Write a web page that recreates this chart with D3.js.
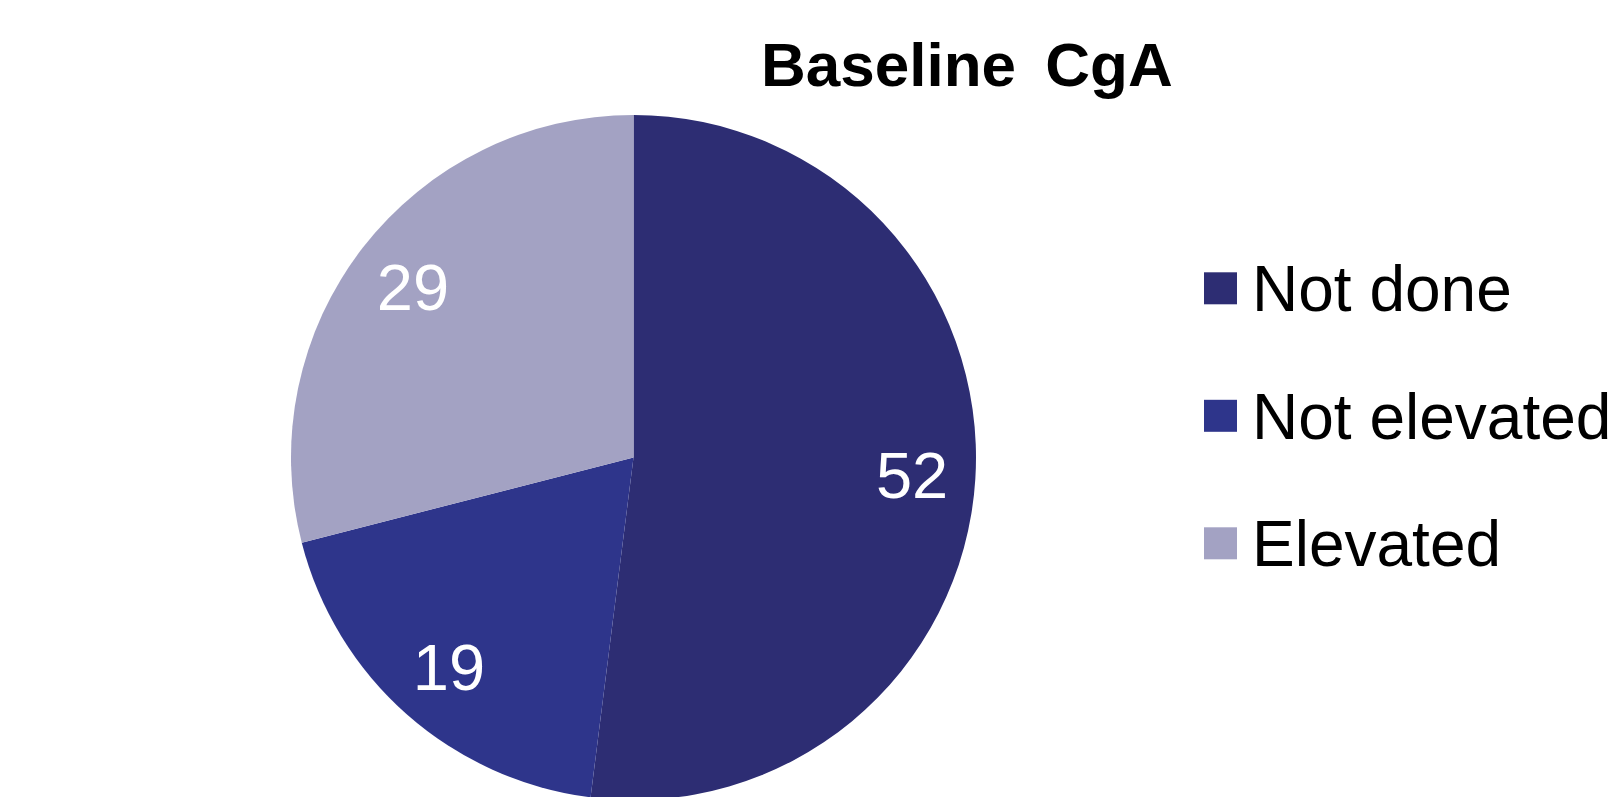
<!DOCTYPE html>
<html>
<head>
<meta charset="utf-8">
<script src="https://cdn.jsdelivr.net/npm/d3@7"></script>
<style>
  html, body { margin: 0; padding: 0; background: #ffffff; }
  svg { display: block; font-family: "Liberation Sans", Arial, sans-serif; }
</style>
</head>
<body>
<svg id="chart" width="1616" height="797"></svg>
<script>
const chartTitle = "Baseline CgA";
const categories = ["Not done", "Not elevated", "Elevated"];
const values = [52, 19, 29];
const colors = ["#2d2d73", "#2e358b", "#a3a2c3"];

const svg = d3.select("#chart");
const W = 1616, H = 797;
const cx = 633.5, cy = 457.5, R = 342.5;

svg.append("text")
  .attr("x", 761).attr("y", 86)
  .attr("font-size", 62).attr("font-weight", "bold")
  .attr("word-spacing", 12)
  .attr("fill", "#000")
  .text(chartTitle);

const data = categories.map((c, i) => ({ name: c, value: values[i] }));
const pie = d3.pie().value(d => d.value).sort(null);
const arcs = pie(data);
const color = d3.scaleOrdinal().domain(categories).range(colors);

const arc = d3.arc().innerRadius(0).outerRadius(R);
const labelArc = d3.arc().innerRadius(R * 0.815).outerRadius(R * 0.815);

const g = svg.append("g").attr("transform", `translate(${cx},${cy})`);
g.selectAll("path.slice").data(arcs).enter().append("path")
  .attr("class", "slice")
  .attr("d", arc)
  .attr("fill", d => color(d.data.name));

g.selectAll("text.lbl").data(arcs).enter().append("text")
  .attr("class", "lbl")
  .attr("transform", d => { const c = labelArc.centroid(d); return `translate(${c[0]},${c[1]})`; })
  .attr("text-anchor", "middle")
  .attr("dy", "0.36em")
  .attr("font-size", 65)
  .attr("fill", "#ffffff")
  .text(d => d.data.value);

const legY = d3.scalePoint().domain(categories).range([288.3, 543.3]);
const leg = svg.append("g");
const items = leg.selectAll("g").data(categories).enter().append("g")
  .attr("transform", d => `translate(1204,${legY(d)})`);
items.append("rect")
  .attr("x", 0).attr("y", -16).attr("width", 33).attr("height", 32)
  .attr("fill", d => color(d));
items.append("text")
  .attr("x", 48).attr("y", 23)
  .attr("font-size", 64).attr("fill", "#000")
  .text(d => d);
</script>
</body>
</html>
